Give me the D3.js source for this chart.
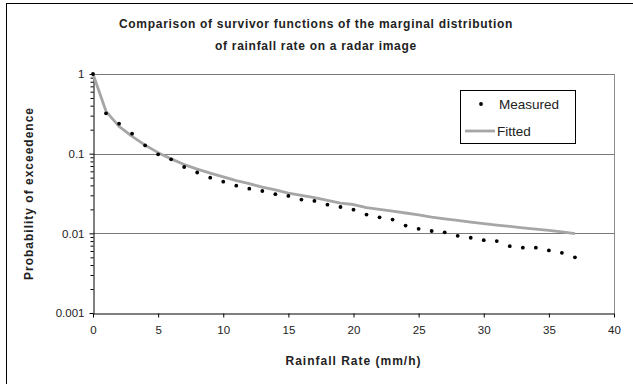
<!DOCTYPE html>
<html>
<head>
<meta charset="utf-8">
<script src="https://d3js.org/d3.v7.min.js"></script>
<style>
  body { margin: 0; background: #fff; }
  text { font-family: "Liberation Sans", Arial, sans-serif; fill: #222; }
</style>
</head>
<body>
<svg></svg>
<script>
    const rainRate = d3.range(0, 38);   // 0 .. 37 mm/h
    const measured = [1, 0.321, 0.238, 0.178, 0.127, 0.098, 0.085, 0.068, 0.058, 0.050,
        0.0445, 0.0397, 0.0364, 0.034, 0.031, 0.0295, 0.0265, 0.0255, 0.0229, 0.0214,
        0.0198, 0.0172, 0.0159, 0.0149, 0.0125, 0.0114, 0.0107, 0.0103, 0.0093, 0.0088,
        0.0082, 0.0080, 0.0069, 0.0066, 0.0066, 0.0061, 0.0057, 0.0050];
    const fitted = [1, 0.34, 0.22, 0.165, 0.128, 0.103, 0.086, 0.073, 0.064, 0.057,
        0.051, 0.046, 0.042, 0.038, 0.035, 0.032, 0.030, 0.028, 0.026, 0.024,
        0.023, 0.021, 0.020, 0.019, 0.018, 0.017, 0.016, 0.0152, 0.0145, 0.0138,
        0.0132, 0.0127, 0.0122, 0.0117, 0.0113, 0.0109, 0.0104, 0.0099];
    const xTicks = [0, 5, 10, 15, 20, 25, 30, 35, 40];
    const yTicks = [0.001, 0.01, 0.1, 1];
    const yTickLabels = ["0.001", "0.01", "0.1", "1"];

    const W = 633, H = 384;
    const plot = {left: 93, right: 614, top: 74, bottom: 313};

    const svg = d3.select("svg")
        .attr("width", W)
        .attr("height", H);

    // chart border (runs off the right / bottom edge)
    svg.append("rect")
        .attr("x", 6.5).attr("y", 3.5)
        .attr("width", 660).attr("height", 420)
        .attr("fill", "none").attr("stroke", "#000");

    const x = d3.scaleLinear().domain([0, 40]).range([plot.left, plot.right]);
    const y = d3.scaleLog().domain([0.001, 1]).range([plot.bottom, plot.top]);

    // plot area frame (gray)
    svg.append("line")
        .attr("x1", plot.right + 0.5).attr("x2", plot.right + 0.5)
        .attr("y1", plot.top).attr("y2", plot.bottom)
        .attr("stroke", "#8c8c8c");

    // gridlines
    svg.append("g").selectAll("line")
        .data(yTicks.filter(d => d > 0.001))
        .join("line")
        .attr("x1", plot.left).attr("x2", plot.right)
        .attr("y1", d => Math.round(y(d)) + 0.5)
        .attr("y2", d => Math.round(y(d)) + 0.5)
        .attr("stroke", "#7a7a7a");

    // minor ticks on log axis
    const minors = [];
    [0.001, 0.01, 0.1].forEach(dec => {
        for (let k = 2; k <= 9; k++) minors.push(dec * k);
    });
    svg.append("g")
        .attr("transform", `translate(${plot.left + 0.5},0)`)
        .call(d3.axisLeft(y).tickValues(minors).tickSize(3).tickFormat(""))
        .call(g => g.select(".domain").remove())
        .selectAll("line").attr("stroke", "#000");

    // y axis
    const yAxis = svg.append("g")
        .attr("transform", `translate(${plot.left + 0.5},0)`)
        .call(d3.axisLeft(y).tickValues(yTicks).tickSize(4).tickSizeOuter(0)
            .tickFormat((d, i) => yTickLabels[i]));
    yAxis.select(".domain").attr("stroke", "#000");
    yAxis.selectAll("text")
        .attr("font-size", 11.5)
        .attr("font-family", "Liberation Sans, Arial, sans-serif")
        .attr("fill", "#222")
        .attr("x", -9);

    // x axis
    const xAxis = svg.append("g")
        .attr("transform", `translate(0,${plot.bottom + 0.5})`)
        .call(d3.axisBottom(x).tickValues(xTicks).tickSize(4).tickSizeOuter(0));
    xAxis.select(".domain").attr("stroke", "#000");
    xAxis.selectAll("text")
        .attr("font-size", 11.5)
        .attr("font-family", "Liberation Sans, Arial, sans-serif")
        .attr("fill", "#222")
        .attr("y", 12);

    // fitted curve
    const rows = rainRate.map((r, i) => ({r, m: measured[i], f: fitted[i]}));
    svg.append("path")
        .datum(rows)
        .attr("fill", "none")
        .attr("stroke", "#a6a6a6")
        .attr("stroke-width", 2.8)
        .attr("stroke-linejoin", "round")
        .attr("d", d3.line().x(d => x(d.r)).y(d => y(d.f)));

    // measured points
    svg.append("g").selectAll("circle")
        .data(rows)
        .join("circle")
        .attr("cx", d => x(d.r))
        .attr("cy", d => y(d.m))
        .attr("r", 1.9)
        .attr("fill", "#000");

    // title
    const title = svg.append("text")
        .attr("text-anchor", "middle")
        .attr("font-size", 12)
        .attr("font-weight", "bold")
        .attr("letter-spacing", 0.7);
    title.append("tspan").attr("x", 316).attr("y", 28)
        .text("Comparison of survivor functions of the marginal distribution");
    title.append("tspan").attr("x", 316).attr("y", 50)
        .text("of rainfall rate on a radar image");

    // axis titles
    svg.append("text")
        .attr("text-anchor", "middle")
        .attr("x", (plot.left + plot.right) / 2)
        .attr("y", 365)
        .attr("font-size", 12)
        .attr("font-weight", "bold")
        .attr("letter-spacing", 1)
        .text("Rainfall Rate (mm/h)");
    svg.append("text")
        .attr("text-anchor", "middle")
        .attr("transform", `translate(33,${(plot.top + plot.bottom) / 2}) rotate(-90)`)
        .attr("font-size", 12)
        .attr("font-weight", "bold")
        .attr("letter-spacing", 1)
        .text("Probability of exceedence");

    // legend
    const lg = svg.append("g").attr("transform", "translate(460,90)");
    lg.append("rect")
        .attr("x", 0.5).attr("y", 0.5)
        .attr("width", 115).attr("height", 53)
        .attr("fill", "#fff").attr("stroke", "#000");
    lg.append("circle")
        .attr("cx", 21).attr("cy", 14).attr("r", 1.9)
        .attr("fill", "#000");
    lg.append("text").attr("x", 39).attr("y", 18.5)
        .attr("font-size", 13.5).text("Measured");
    lg.append("line")
        .attr("x1", 5).attr("x2", 35).attr("y1", 41).attr("y2", 41)
        .attr("stroke", "#a6a6a6").attr("stroke-width", 2.8);
    lg.append("text").attr("x", 37).attr("y", 45.5)
        .attr("font-size", 13.5).text("Fitted");
</script>
</body>
</html>
